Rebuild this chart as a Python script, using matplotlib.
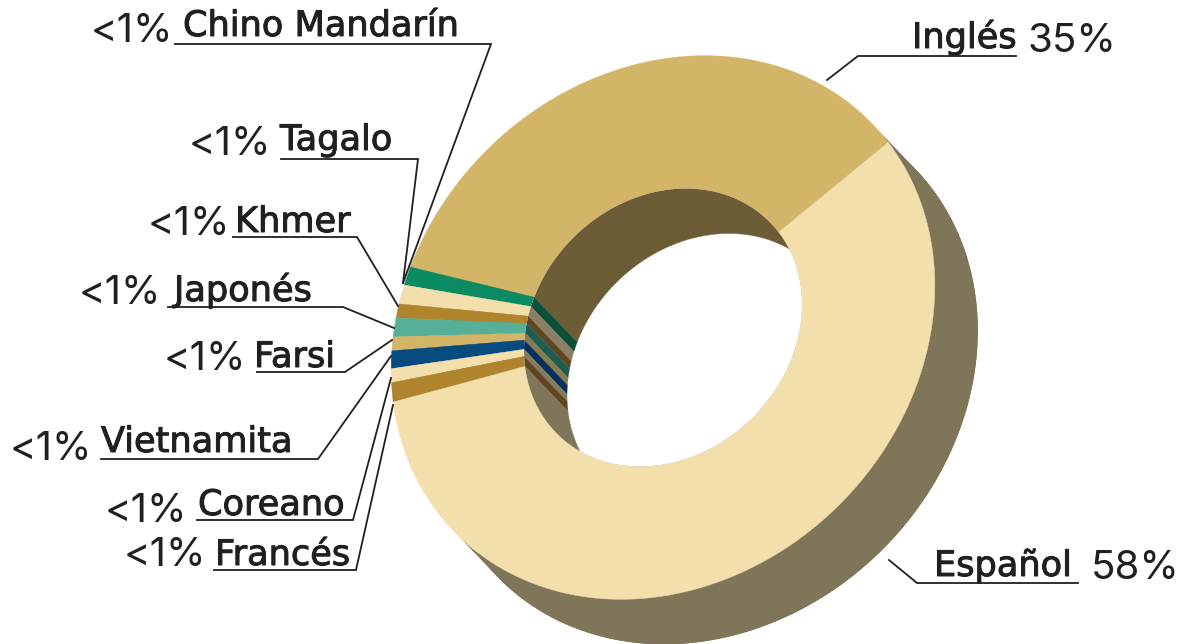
import numpy as np
import matplotlib
matplotlib.use("Agg")
import matplotlib.pyplot as plt
import matplotlib.patheffects as pe
from matplotlib.patches import Polygon

# ==== datos ====
idiomas = ["Inglés", "Chino Mandarín", "Tagalo", "Khmer", "Japonés", "Farsi",
           "Vietnamita", "Coreano", "Francés", "Español"]
etiquetas = ["35%", "<1%", "<1%", "<1%", "<1%", "<1%", "<1%", "<1%", "<1%", "58%"]
# porcentajes
valores = [34.5, 1.08, 1.11, 0.83, 1.11, 0.81, 1.06, 0.83, 1.17, 57.5]
colores = ["#D3B567", "#0B8B63", "#F2DFAC", "#B0832D", "#56B098", "#D3B567",
           "#064B80", "#F2DFAC", "#B0832D", "#F2DFAC"]
colores_pared = ["#6C5D36", "#0B4F38", "#8A8065", "#5F4620", "#215C50", "#8C7A4F",
                 "#04305C", "#857B60", "#5F4620", "#7F7558"]

# ==== geometria (pixeles): elipse inclinada 45 grados ====
CX, CY = 663, 327.5
A_EXT, B_EXT = 292, 250
A_INT, B_INT = 150, 127
DX, DY = 43, 45
ANG_INICIO = -6.5
COLOR_LADO = "#7F7558"
TEXTO = "#231F20"
C45 = np.sqrt(0.5)


def arco(a1, a2, a, b, dx=0, dy=0):
    t = np.radians(np.linspace(a1, a2, max(int(abs(a2 - a1) * 2), 2)))
    u, v = a * np.cos(t), b * np.sin(t)
    return CX + dx + C45 * (u - v), CY + dy - C45 * (u + v)


fig = plt.figure(figsize=(11.92, 6.44), dpi=100)
ax = fig.add_axes([0, 0, 1, 1])
ax.set_xlim(0, 1192)
ax.set_ylim(644, 0)
ax.axis("off")

# cuerpo exterior
x, y = arco(0, 360, A_EXT, B_EXT)
ax.fill(x + DX, y + DY, color=COLOR_LADO, lw=0)
x1, y1 = arco(-180, 0, A_EXT, B_EXT)
x2, y2 = arco(0, -180, A_EXT, B_EXT, DX, DY)
ax.fill(np.r_[x1, x2], np.r_[y1, y2], color=COLOR_LADO, lw=0)

# cara superior
angulos = ANG_INICIO + np.r_[0, np.cumsum(valores)] * 3.6
for a1, a2, c in zip(angulos[:-1], angulos[1:], colores):
    xe, ye = arco(a1, a2, A_EXT, B_EXT)
    xi, yi = arco(a2, a1, A_INT, B_INT)
    ax.fill(np.r_[xe, xi], np.r_[ye, yi], facecolor=c, edgecolor=c, lw=0.3)

# hueco y pared interior, recortada al hueco
x, y = arco(0, 360, A_INT, B_INT)
ax.fill(x, y, color="white", lw=0)
hueco = Polygon(np.c_[x, y], transform=ax.transData)
for a1, a2, c in zip(angulos[:-1], angulos[1:], colores_pared):
    a1, a2 = max(a1, 0), min(a2, 180)
    if a2 <= a1:
        continue
    x1, y1 = arco(a1, a2, A_INT, B_INT)
    x2, y2 = arco(a2, a1, A_INT, B_INT, DX, DY)
    for p in ax.fill(np.r_[x1, x2], np.r_[y1, y2], facecolor=c, edgecolor=c, lw=0.2):
        p.set_clip_path(hueco)

# lineas guia
guias = [
    [(827, 80), (858, 56), (1016, 56)],
    [(175, 44), (491, 44), (403, 283)],
    [(281, 159), (418, 159), (403, 283)],
    [(233, 237), (357, 237), (398, 306)],
    [(168, 307), (343, 307), (394, 328)],
    [(257, 372), (345, 372), (392, 340)],
    [(101, 459), (318, 459), (391, 356)],
    [(197, 520), (353, 520), (391, 378)],
    [(214, 570), (356, 570), (393, 405)],
    [(889, 560), (917, 583), (1078, 583)],
]
for g in guias:
    gx, gy = zip(*g)
    ax.plot(gx, gy, color=TEXTO, lw=1.3, solid_joinstyle="miter")

# textos: (x, y base) nombre y porcentaje
pos_nombre = [(912, 48), (183, 36), (280, 150), (235, 232), (174, 301),
              (254, 367), (101, 452), (198, 515), (215, 565), (934, 576)]
pos_pct = [(1027, 52), (91, 42), (189, 155), (148, 235), (79, 304),
           (164, 370), (10, 460), (105, 522), (124, 566), (1091, 579)]
for nombre, pct, pn, pp in zip(idiomas, etiquetas, pos_nombre, pos_pct):
    t = ax.text(pn[0], pn[1], nombre, fontsize=25.3, family="DejaVu Sans", color=TEXTO,
                va="baseline", ha="left")
    t.set_path_effects([pe.withStroke(linewidth=0.7, foreground=TEXTO)])
    ax.text(pp[0], pp[1], pct, fontsize=29, family="Inter", color=TEXTO,
            va="baseline", ha="left")

fig.savefig("out.png", dpi=100)
